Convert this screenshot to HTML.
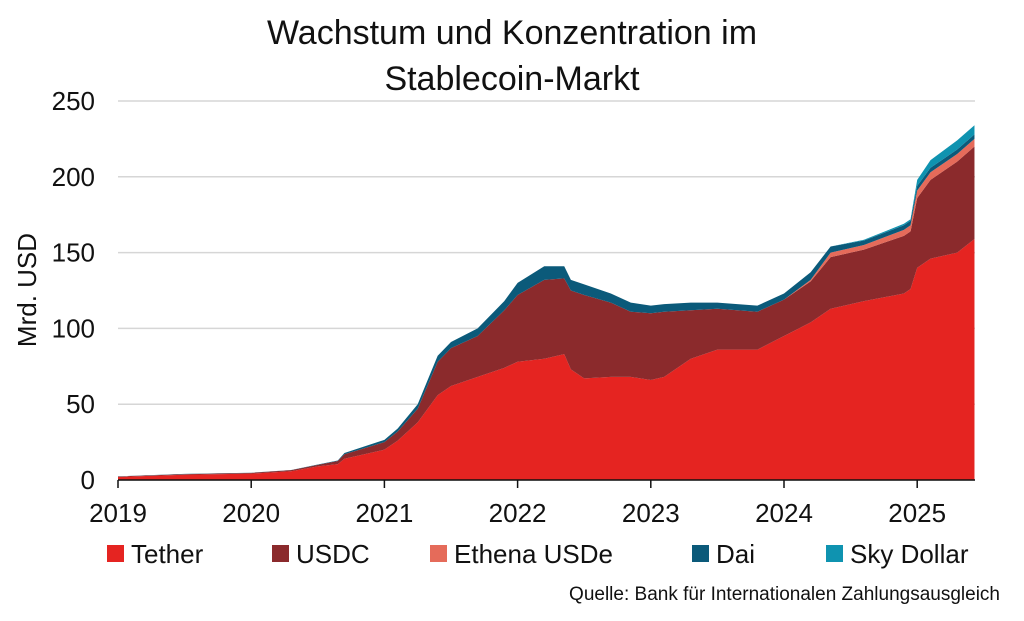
<!DOCTYPE html>
<html><head><meta charset="utf-8"><style>
body{margin:0;background:#fff;font-family:"Liberation Sans",sans-serif}
svg{display:block}
</style></head><body>
<svg id="chart" width="1024" height="621" viewBox="0 0 1024 621">
<text x="512" y="44" text-anchor="middle" font-size="34" fill="#111">Wachstum und Konzentration im</text>
<text x="512" y="90" text-anchor="middle" font-size="34" fill="#111">Stablecoin-Markt</text>
<g id="grid"></g><g id="areas"></g><g id="axes"></g><g id="legend"></g>
<text x="36" y="290" text-anchor="middle" font-size="26" fill="#111" transform="rotate(-90 36 290)">Mrd. USD</text>
<text x="1000" y="600" text-anchor="end" font-size="19" fill="#111">Quelle: Bank für Internationalen Zahlungsausgleich</text>
</svg>
<script>
const dates=[2019,2019.5,2020,2020.3,2020.5,2020.65,2020.7,2021,2021.1,2021.25,2021.4,2021.5,2021.7,2021.9,2022,2022.2,2022.35,2022.4,2022.5,2022.7,2022.85,2023,2023.1,2023.3,2023.5,2023.8,2024,2024.2,2024.35,2024.6,2024.9,2024.95,2025.0,2025.1,2025.3,2025.43];
const tether=[2,3.5,4.2,5.8,9,10.5,14,20,26,38,56,62,68,74,78,80,83,73,67,68,68,66,68,80,86,86,95,104,113,118,123,126,140,146,150,159];
const usdc=[0.3,0.4,0.5,0.7,1,2,3,5,6,9,22,25,27,38,44,52,50,52,55,49,43,44,43,32,27,25,24,27,34,34,38,38,46,52,60,61];
const ethena=[0,0,0,0,0,0,0,0,0,0,0,0,0,0,0,0,0,0,0,0,0,0,0,0,0,0,0,1,3,3,4,4,5,5,5,5];
const dai=[0.1,0.1,0.1,0.1,0.2,0.4,0.8,1.5,2,3,4,4,5,6,8,9,8,7,7,6,6,5,5,5,4,4,4,5,4,3,3,3,3,3,3,3];
const sky=[0,0,0,0,0,0,0,0,0,0,0,0,0,0,0,0,0,0,0,0,0,0,0,0,0,0,0,0,0,0.5,1,1,4,5,6,6];
const seriesNames=["Tether","USDC","Ethena USDe","Dai","Sky Dollar"];
const yTicks=[0,50,100,150,200,250];
const xTicks=[2019,2020,2021,2022,2023,2024,2025];
const NS="http://www.w3.org/2000/svg";
const colors=["#e52421","#8b2a2c","#e56b5a","#0b5a7a","#0f93b0"];
const x=d=>118+(d-2019)*133.2;
const y=v=>480-v*1.516;
function mk(t,a,p){const e=document.createElementNS(NS,t);for(const k in a)e.setAttribute(k,a[k]);(p||document.getElementById('chart')).appendChild(e);return e;}
const grid=document.getElementById('grid'),axes=document.getElementById('axes'),areas=document.getElementById('areas'),legend=document.getElementById('legend');
yTicks.forEach(v=>{
 const l=mk('line',{x1:118,x2:975,y1:y(v),y2:y(v),stroke:'#d6d6d6','stroke-width':1.5},grid);
 
 
 const t=mk('text',{x:95,y:y(v)+9,'text-anchor':'end','font-size':26,fill:'#111'},axes);t.textContent=v;
 
 
});
const all=[tether,usdc,ethena,dai,sky];
let base=dates.map(()=>0);
all.forEach((s,i)=>{
 const top=base.map((b,j)=>b+s[j]);
 let d='M'+dates.map((dt,j)=>x(dt)+','+y(top[j])).join('L');
 for(let j=dates.length-1;j>=0;j--)d+='L'+x(dates[j])+','+y(base[j]);
 const p=mk('path',{d:d+'Z',fill:colors[i]},areas);
 
 
 base=top;
});
const ax=mk('line',{x1:118,x2:975,y1:480,y2:480,stroke:'#111','stroke-width':1.5},axes);


xTicks.forEach(v=>{
 const tk=mk('line',{x1:x(v),x2:x(v),y1:480,y2:488,stroke:'#111','stroke-width':1.5},axes);
 
 
 const t=mk('text',{x:x(v),y:522,'text-anchor':'middle','font-size':26,fill:'#111'},axes);t.textContent=v;
 
 
});
const lx=[107,272,430,692,826];
seriesNames.forEach((n,i)=>{
 const r=mk('rect',{x:lx[i],y:545,width:17,height:17,fill:colors[i]},legend);
 
 
 const t=mk('text',{x:lx[i]+24,y:563,'font-size':26,fill:'#111'},legend);t.textContent=n;
 
 
});
</script>
</body></html>
